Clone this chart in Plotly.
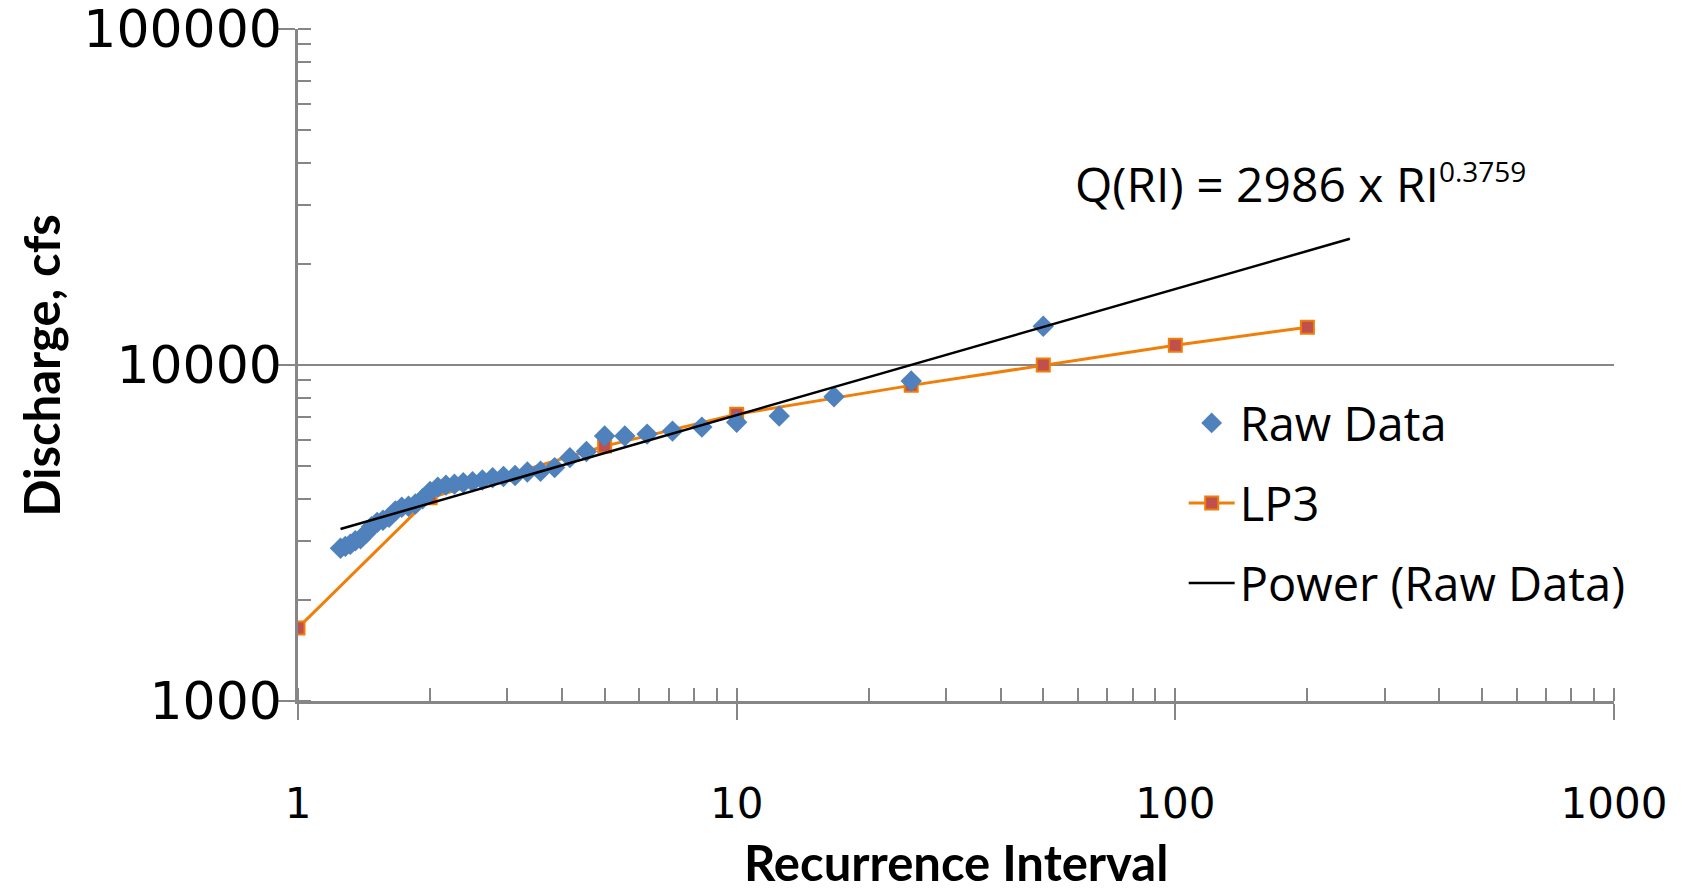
import plotly.graph_objects as go

# ---- data ----
raw_ri = [50, 25, 16.67, 12.5, 10, 8.33, 7.14, 6.25, 5.56, 5.0,
          4.545, 4.167, 3.846, 3.571, 3.333, 3.125, 2.941, 2.778, 2.632, 2.5,
          2.381, 2.273, 2.174, 2.083, 2.0, 1.923, 1.852, 1.786, 1.724, 1.667,
          1.613, 1.5625, 1.515, 1.471, 1.429, 1.389, 1.351, 1.316, 1.282, 1.25]
raw_q = [13050, 8957, 8050, 7046, 6757, 6533, 6357, 6227, 6143, 6143,
         5530, 5300, 4950, 4830, 4800, 4690, 4660, 4620, 4550, 4490,
         4460, 4420, 4390, 4330, 4200, 4000, 3855, 3800, 3770, 3680,
         3520, 3450, 3400, 3300, 3156, 3040, 2997, 2927, 2885, 2848]

lp3_ri = [1, 2, 5, 10, 25, 50, 100, 200]
lp3_q = [1650, 4023, 5736, 7140, 8697, 10000, 11454, 12950]

trend_ri = [1.25, 250]
trend_q = [3250, 23750]

y_tickvals = [1000, 10000, 100000]
y_ticktext = ["1000", "10000", "100000"]
x_tickvals = [1, 10, 100, 1000]
x_ticktext = ["1", "10", "100", "1000"]

AX = "#868686"

fig = go.Figure()
fig.add_trace(go.Scatter(
    x=lp3_ri, y=lp3_q, mode="lines+markers", name="LP3", legendrank=2,
    legendgroup="b",
    line=dict(color="#F07F09", width=3),
    marker=dict(symbol="square", size=13, color="#C0504D",
                line=dict(color="#F07F09", width=2))))
fig.add_trace(go.Scatter(
    x=raw_ri, y=raw_q, mode="markers", name="Raw Data", legendrank=1,
    legendgroup="a",
    marker=dict(symbol="diamond", size=16.5, color="#4F81BD",
                line=dict(width=0))))
fig.add_trace(go.Scatter(
    x=trend_ri, y=trend_q, mode="lines", name="Power (Raw Data)", legendrank=3,
    legendgroup="c",
    line=dict(color="black", width=2.5)))

fig.add_annotation(
    xref="paper", yref="paper", x=0.5887, y=0.7696,
    xanchor="left", yanchor="middle", showarrow=False,
    text="Q(RI) = 2986 x RI<sup><span style='font-size:28px'>0.3759</span></sup>",
    font=dict(family="Open Sans", size=48, color="black"))

# axis titles placed as annotations for exact positioning
fig.add_annotation(
    xref="paper", yref="paper", x=0.5, y=-0.2395,
    xanchor="center", yanchor="middle", showarrow=False,
    text="<b>Recurrence Interval</b>",
    font=dict(family="Lato", size=49, color="black"))
fig.add_annotation(
    xref="paper", yref="paper", x=-0.1954, y=0.5,
    xanchor="center", yanchor="middle", showarrow=False, textangle=-90,
    text="<b>Discharge, cfs</b>",
    font=dict(family="Lato", size=49, color="black"))

fig.update_layout(
    width=1682, height=892,
    margin=dict(l=298, r=68, t=29, b=191),
    paper_bgcolor="white", plot_bgcolor="white",
    showlegend=True,
    legend=dict(x=0.673, y=0.469, xanchor="left", yanchor="top",
                font=dict(family="Open Sans", size=47, color="black"),
                bgcolor="rgba(0,0,0,0)", tracegroupgap=16, itemwidth=46),
    xaxis=dict(
        type="log", range=[0, 3], automargin=False,
        tickmode="array", tickvals=x_tickvals, ticktext=x_ticktext,
        showgrid=False, zeroline=False,
        showline=True, linecolor=AX, linewidth=2.5,
        ticks="outside", ticklen=16, tickwidth=1.5, tickcolor=AX,
        ticklabelstandoff=48, ticklabeloverflow="allow",
        tickfont=dict(family="DejaVu Sans", size=42, color="black"),
        minor=dict(ticks="inside", ticklen=13, tickwidth=1.5, tickcolor=AX,
                   dtick="D1", showgrid=False),
    ),
    yaxis=dict(
        type="log", range=[3, 5], automargin=False,
        tickmode="array", tickvals=y_tickvals, ticktext=y_ticktext,
        showgrid=True, gridcolor=AX, gridwidth=2, zeroline=False,
        showline=True, linecolor=AX, linewidth=2.5,
        ticks="outside", ticklen=17, tickwidth=1.5, tickcolor=AX,
        ticklabelstandoff=-14, ticklabeloverflow="allow",
        tickfont=dict(family="DejaVu Sans", size=52, color="black"),
        minor=dict(ticks="inside", ticklen=13, tickwidth=1.5, tickcolor=AX,
                   dtick="D1", showgrid=False),
    ),
)

fig.write_html("out.html")
